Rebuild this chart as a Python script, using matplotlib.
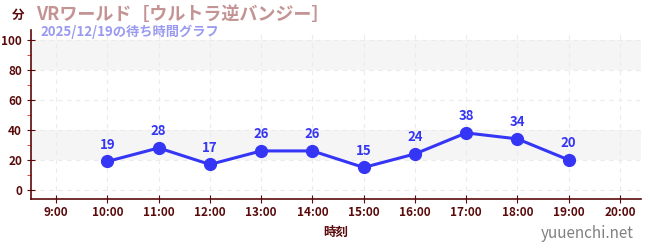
import matplotlib
matplotlib.use("Agg")
import matplotlib.pyplot as plt
from matplotlib.ticker import MultipleLocator

plt.rcParams['font.family'] = ['Noto Sans CJK JP', 'DejaVu Sans']

# data
hours = [10, 11, 12, 13, 14, 15, 16, 17, 18, 19]
waits = [19, 28, 17, 26, 26, 15, 24, 38, 34, 20]
tick_hours = list(range(9, 21))
tick_labels = [f"{h}:00" for h in tick_hours]

title = "VRワールド［ウルトラ逆バンジー］"
subtitle = "2025/12/19の待ち時間グラフ"

axis_col = "#5a0a0a"
line_col = "#3535f5"

fig = plt.figure(figsize=(6.5, 2.5), dpi=100)
ax = fig.add_axes([31 / 650, 1 - 199 / 250, 610 / 650, 169 / 250])

ax.set_xlim(8.51, 20.41)
ax.set_ylim(-6, 106.5)

# shaded bands
for lo, hi in [(20, 40), (80, 100)]:
    ax.axhspan(lo, hi, color="#f5f5f5", zorder=0, lw=0)

ax.set_xticks(tick_hours)
ax.set_xticklabels(tick_labels)
ax.set_yticks(range(0, 101, 20))
ax.yaxis.set_minor_locator(MultipleLocator(10))
ax.grid(True, which="major", color="#ebebeb", linestyle=(0, (4, 4)), lw=0.8, zorder=0)

ax.plot(hours, waits, color=line_col, lw=2.2, marker="o", ms=8.5, zorder=3)
for h, w in zip(hours, waits):
    ax.annotate(str(w), (h, w), xytext=(0, 7), textcoords="offset points",
                ha="center", va="bottom", color=line_col, fontsize=9.5,
                fontweight="bold")

for s in ["top", "right"]:
    ax.spines[s].set_visible(False)
for s in ["left", "bottom"]:
    ax.spines[s].set_color(axis_col)
    ax.spines[s].set_linewidth(1.2)

ax.tick_params(axis="both", which="major", colors=axis_col, labelsize=8.5, length=4)
ax.tick_params(axis="y", which="minor", colors="#e02020", length=3)
ax.tick_params(axis="y", which="major", direction="inout", length=6)
ax.tick_params(axis="x", which="major", direction="inout", length=6, pad=2)
for lab in ax.get_xticklabels() + ax.get_yticklabels():
    lab.set_fontweight("bold")

ax.set_xlabel("時刻", color=axis_col, fontsize=9, fontweight="bold", labelpad=5)

fig.text(12 / 650, 1 - 15 / 250, "分", color=axis_col, fontsize=9,
         fontweight="bold", va="center")
fig.text(36 / 650, 1 - 14 / 250, title, color="#c49494", fontsize=13,
         fontweight="bold", va="center")
fig.text(40 / 650, 1 - 32 / 250, subtitle, color="#9a9af0", fontsize=9.5,
         fontweight="bold", va="center")
fig.text(634 / 650, 1 - 234 / 250, "yuuenchi.net", color="#808080",
         fontsize=11, ha="right", va="center")

fig.savefig("out.png", dpi=100)
